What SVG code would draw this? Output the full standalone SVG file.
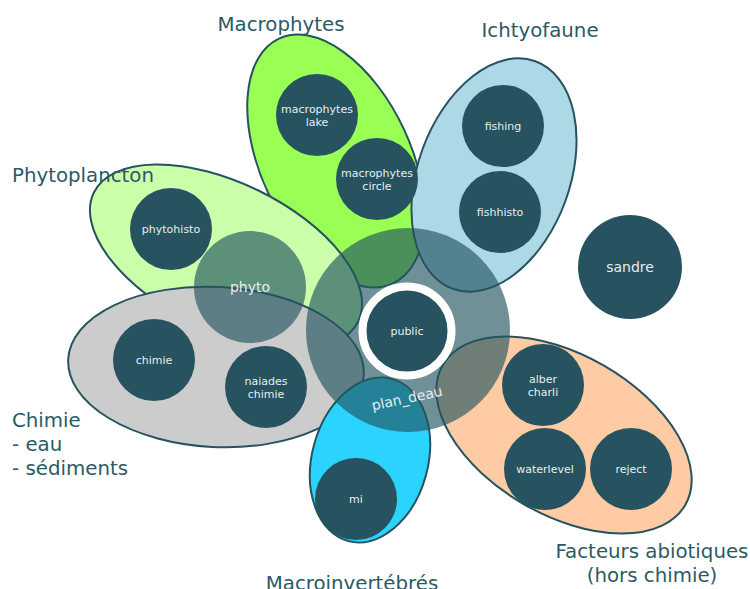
<svg xmlns="http://www.w3.org/2000/svg" width="750" height="589" viewBox="0 0 750 589">
<style>
.grp{stroke:#26535f;stroke-width:2}
.node{fill:#26535f}
.nt{font-family:"DejaVu Sans",sans-serif;font-size:11px;fill:#e6eef0;text-anchor:middle}
.lbl{font-family:"DejaVu Sans",sans-serif;font-size:19.8px;fill:#2b5a66}
.big{fill:#225560;fill-opacity:0.65}
.bt{font-family:"DejaVu Sans",sans-serif;font-size:14px;fill:#e6eef0;text-anchor:middle}
</style>
<rect width="750" height="589" fill="#ffffff"/>
<g id="groups">
<g id="g-macrophytes"><ellipse class="grp" cx="336" cy="161" rx="75" ry="135" transform="rotate(-25 336 161)" fill="#99ff55"/></g>
<g id="g-ichtyofaune"><ellipse class="grp" cx="494" cy="175" rx="76" ry="121" transform="rotate(20 494 175)" fill="#add8e6"/></g>
<g id="g-phytoplancton"><ellipse class="grp" cx="226" cy="257" rx="147" ry="74" transform="rotate(26 226 257)" fill="#ccffaa"/></g>
<g id="g-chimie"><ellipse class="grp" cx="216" cy="367" rx="148" ry="80" transform="rotate(3 216 367)" fill="#cccccc"/></g>
<g id="g-macroinv"><ellipse class="grp" cx="370" cy="460" rx="58" ry="84" transform="rotate(15 370 460)" fill="#2ad4ff"/></g>
<g id="g-facteurs"><ellipse class="grp" cx="564" cy="435" rx="140" ry="80" transform="rotate(30 564 435)" fill="#ffcba4"/></g>
</g>
<g id="connectors"></g>
<g id="plan_deau"><circle class="big" cx="408" cy="330" r="102"/><text class="bt" x="0" y="0" transform="translate(408 403) rotate(-12)">plan_deau</text></g>
<g id="phyto"><circle class="big" cx="250" cy="287" r="56"/><text class="bt" x="250" y="292">phyto</text></g>
<g id="public"><circle class="node" cx="407" cy="331" r="44.5" stroke="#ffffff" stroke-width="8"/><text class="nt" x="407" y="335">public</text></g>
<g id="macrophytes_lake"><circle class="node" cx="317" cy="115" r="41"/><text class="nt" x="317" y="113">macrophytes</text><text class="nt" x="317" y="126">lake</text></g>
<g id="macrophytes_circle"><circle class="node" cx="377" cy="179" r="41"/><text class="nt" x="377" y="177">macrophytes</text><text class="nt" x="377" y="190">circle</text></g>
<g id="fishing"><circle class="node" cx="503" cy="126" r="41"/><text class="nt" x="503" y="130">fishing</text></g>
<g id="fishhisto"><circle class="node" cx="500" cy="212" r="41"/><text class="nt" x="500" y="216">fishhisto</text></g>
<g id="phytohisto"><circle class="node" cx="171" cy="229" r="41"/><text class="nt" x="171" y="233">phytohisto</text></g>
<g id="chimie"><circle class="node" cx="154" cy="360" r="41"/><text class="nt" x="154" y="364">chimie</text></g>
<g id="naiades_chimie"><circle class="node" cx="266" cy="387" r="41"/><text class="nt" x="266" y="385">naiades</text><text class="nt" x="266" y="398">chimie</text></g>
<g id="mi"><circle class="node" cx="356" cy="499" r="41"/><text class="nt" x="356" y="503">mi</text></g>
<g id="alber_charli"><circle class="node" cx="543" cy="385" r="41"/><text class="nt" x="543" y="383">alber</text><text class="nt" x="543" y="396">charli</text></g>
<g id="waterlevel"><circle class="node" cx="545" cy="469" r="41"/><text class="nt" x="545" y="473">waterlevel</text></g>
<g id="reject"><circle class="node" cx="631" cy="469" r="41"/><text class="nt" x="631" y="473">reject</text></g>
<g id="sandre"><circle class="node" cx="630" cy="267" r="52"/><text class="nt" style="font-size:14px" x="630" y="272">sandre</text></g>
<g id="labels">
<text class="lbl" x="281" y="31" text-anchor="middle">Macrophytes</text>
<text class="lbl" x="540" y="37" text-anchor="middle">Ichtyofaune</text>
<text class="lbl" x="12" y="182">Phytoplancton</text>
<text class="lbl" x="12" y="427">Chimie</text>
<text class="lbl" x="12" y="451">- eau</text>
<text class="lbl" x="12" y="475">- sédiments</text>
<text class="lbl" x="352" y="590" text-anchor="middle">Macroinvertébrés</text>
<text class="lbl" x="652" y="558" text-anchor="middle">Facteurs abiotiques</text>
<text class="lbl" x="652" y="582" text-anchor="middle">(hors chimie)</text>
</g>
</svg>
